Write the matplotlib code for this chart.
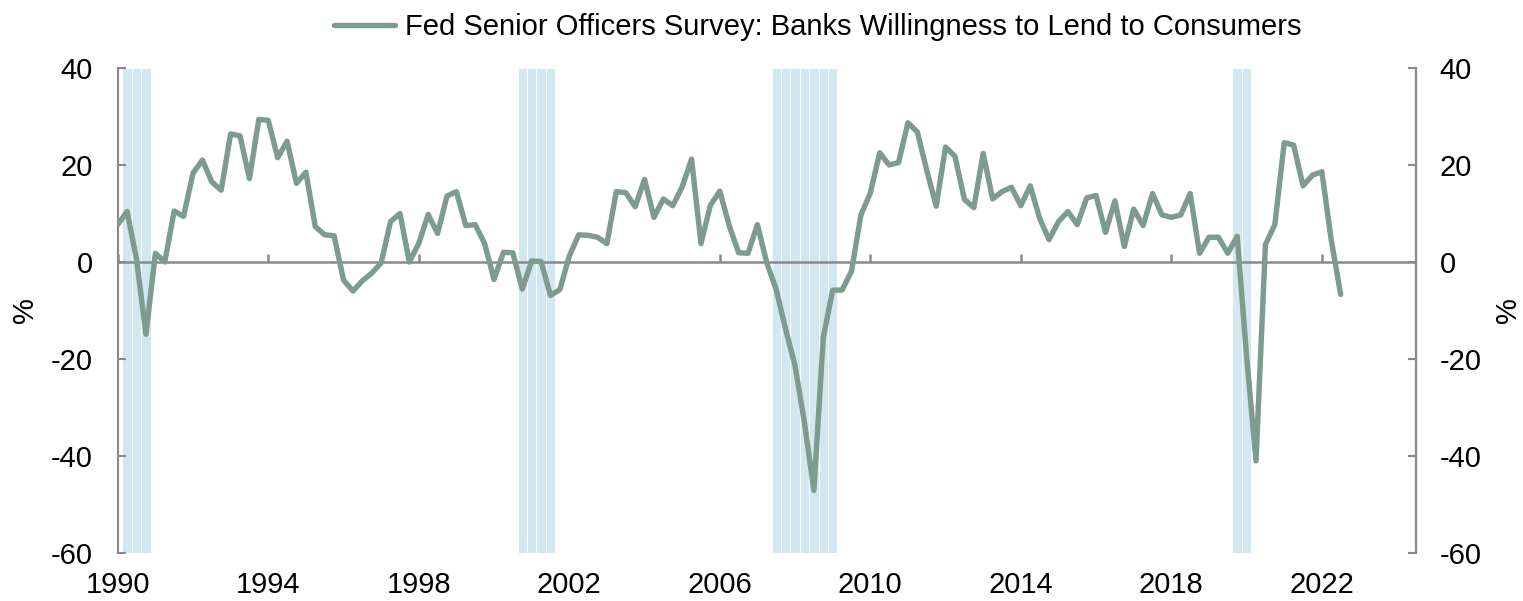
import numpy as np
import matplotlib
matplotlib.use('Agg')
import matplotlib.pyplot as plt

plt.rcParams['font.family'] = ['Liberation Sans', 'DejaVu Sans']
plt.rcParams['axes.unicode_minus'] = False

series_name = 'Fed Senior Officers Survey: Banks Willingness to Lend to Consumers'
start_year = 1990

# quarterly values, 1990Q1 .. 2022Q3
willingness = [
    7.7, 10.4, 0.5, -14.9, 1.8, 0.0, 10.5, 9.4, 18.3, 21.0,
    16.5, 14.8, 26.4, 26.0, 17.2, 29.4, 29.2, 21.5, 24.9, 16.2,
    18.5, 7.3, 5.6, 5.4, -3.7, -6.0, -3.9, -2.3, -0.2, 8.3,
    10.0, 0.0, 3.8, 9.8, 5.9, 13.6, 14.5, 7.5, 7.7, 3.8,
    -3.6, 2.0, 1.9, -5.6, 0.2, 0.1, -6.9, -5.7, 1.2, 5.6,
    5.5, 5.1, 3.8, 14.5, 14.3, 11.4, 17.0, 9.2, 13.0, 11.6,
    15.5, 21.2, 3.8, 11.7, 14.6, 7.5, 1.9, 1.8, 7.7, -0.2,
    -5.7, -13.9, -21.4, -33.1, -47.1, -15.6, -5.8, -5.8, -1.9, 9.7,
    14.2, 22.5, 20.0, 20.5, 28.7, 26.8, 18.9, 11.5, 23.7, 21.8,
    12.9, 11.2, 22.4, 13.0, 14.5, 15.4, 11.6, 15.7, 9.0, 4.6,
    8.3, 10.4, 7.7, 13.2, 13.7, 6.1, 12.6, 3.2, 10.9, 7.5,
    14.1, 9.7, 9.2, 9.7, 14.1, 1.8, 5.1, 5.1, 1.8, 5.3,
    -19.5, -41.0, 3.6, 7.7, 24.6, 24.1, 15.7, 17.9, 18.6, 4.5,
    -6.7,
]

# recession quarters (shaded columns)
recession_quarters = [
    1990.25, 1990.5, 1990.75,
    2000.75, 2001.0, 2001.25, 2001.5,
    2007.5, 2007.75, 2008.0, 2008.25, 2008.5, 2008.75, 2009.0,
    2019.75, 2020.0,
]

year_ticks = [1990, 1994, 1998, 2002, 2006, 2010, 2014, 2018, 2022]
y_ticks = [-60, -40, -20, 0, 20, 40]

line_color = '#7e9b90'
shade_color = '#d1e8f0'
axis_color = '#898989'
fs = 21

quarters = start_year + 0.25 * np.arange(len(willingness))

fig = plt.figure(figsize=(15.23, 6.01), dpi=100)
ax = fig.add_axes([0.0773, 0.0799, 0.8524, 0.807])

ax.bar(recession_quarters, 100, bottom=-60, width=0.25, color=shade_color,
       edgecolor='white', linewidth=0.6, zorder=1)

ax.axhline(0, color=axis_color, linewidth=1.8, zorder=2)
ax.vlines(year_ticks, 0, 1.7, color=axis_color, linewidth=1.8, zorder=2)

line, = ax.plot(quarters, willingness, color=line_color, linewidth=3.9,
                solid_joinstyle='round', solid_capstyle='round', zorder=3,
                label=series_name)

ax.set_xlim(1990, 2024.5)
ax.set_ylim(-60, 40)
ax.set_xticks(year_ticks)
ax.set_xticklabels([str(y) for y in year_ticks])
ax.set_yticks(y_ticks)

for side in ['top', 'bottom']:
    ax.spines[side].set_visible(False)
for side in ['left', 'right']:
    ax.spines[side].set_color(axis_color)
    ax.spines[side].set_linewidth(1.5)

ax.tick_params(axis='x', length=0, pad=13, labelsize=fs)
ax.tick_params(axis='y', direction='in', length=6, width=1.5, color=axis_color,
               pad=18, labelsize=fs)

ax2 = ax.twinx()
ax2.set_ylim(-60, 40)
ax2.set_yticks(y_ticks)
for side in ['top', 'bottom', 'left']:
    ax2.spines[side].set_visible(False)
ax2.spines['right'].set_color(axis_color)
ax2.spines['right'].set_linewidth(1.5)
ax2.tick_params(axis='y', direction='in', length=6, width=1.5, color=axis_color,
                pad=17, labelsize=fs)

fig.text(25 / 1523, 1 - 310 / 601, '%', rotation=90, fontsize=fs,
         ha='center', va='center')
fig.text(1508 / 1523, 1 - 310 / 601, '%', rotation=90, fontsize=fs,
         ha='center', va='center')

fig.legend(handles=[line], loc='center', bbox_to_anchor=(0.537, 0.955),
           frameon=False, fontsize=fs, handlelength=2.1, handletextpad=0.35,
           borderpad=0.2)

fig.savefig('out.png', dpi=100)
